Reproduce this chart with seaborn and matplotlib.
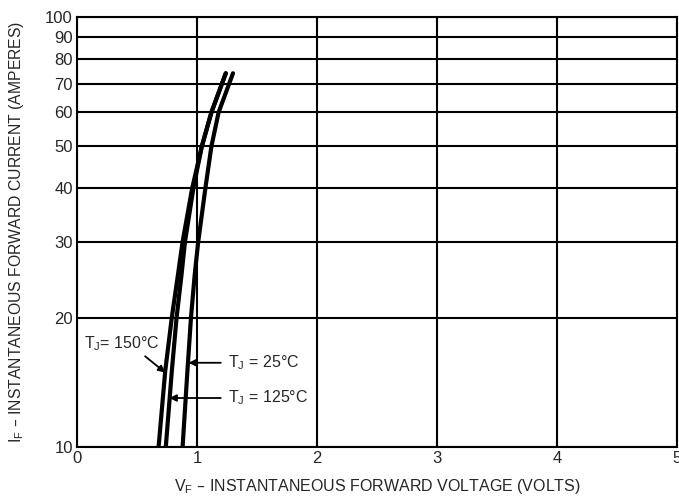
import numpy as np
import pandas as pd
import matplotlib
matplotlib.use("Agg")
import matplotlib.pyplot as plt
import seaborn as sns

# forward current (A)
current = [10, 15, 20, 25, 30, 40, 50, 60, 74]
# forward voltage (V) for each junction temperature
v_150 = [0.68, 0.735, 0.79, 0.84, 0.88, 0.96, 1.04, 1.12, 1.24]
v_125 = [0.74, 0.79, 0.83, 0.87, 0.90, 0.97, 1.04, 1.12, 1.24]
v_25 = [0.88, 0.92, 0.95, 0.98, 1.01, 1.07, 1.12, 1.18, 1.30]

y_ticks = [10, 20, 30, 40, 50, 60, 70, 80, 90, 100]
x_ticks = [0, 1, 2, 3, 4, 5]

df = pd.concat([
    pd.DataFrame({"V": v_150, "I": current, "T": "150"}),
    pd.DataFrame({"V": v_125, "I": current, "T": "125"}),
    pd.DataFrame({"V": v_25, "I": current, "T": "25"}),
])

sns.set_style("white")
plt.rcParams["font.family"] = ["Liberation Sans", "DejaVu Sans"]

fig = plt.figure(figsize=(6.79, 4.98), dpi=100)
ax = fig.add_axes([0.1134, 0.1024, 0.8836, 0.8634])

sns.lineplot(data=df, x="V", y="I", units="T", estimator=None, sort=False,
             color="black", lw=3, ax=ax)

ax.set_yscale("log")
ax.set_xlim(0, 5)
ax.set_ylim(10, 100)
ax.set_yticks(y_ticks)
ax.set_yticklabels([str(t) for t in y_ticks])
ax.minorticks_off()
ax.set_xticks(x_ticks)
ax.set_xticklabels([str(t) for t in x_ticks])
ax.tick_params(length=0, labelsize=12, pad=3)
ax.grid(True, color="black", lw=1.5)
for s in ax.spines.values():
    s.set_color("black")
    s.set_linewidth(1.5)

ax.set_xlabel(r"V$_\mathregular{F}$ – INSTANTANEOUS FORWARD VOLTAGE (VOLTS)", fontsize=11.5, labelpad=8)
ax.set_ylabel(r"I$_\mathregular{F}$ – INSTANTANEOUS FORWARD CURRENT (AMPERES)", fontsize=11.3)
ax.yaxis.set_label_coords(-0.085, 0.5)

arr = dict(arrowstyle="-|>", color="black", lw=1.3, mutation_scale=10, shrinkA=3, shrinkB=0)
bbox = dict(boxstyle="square,pad=0.1", fc="white", ec="none")
ax.annotate(r"T$_\mathregular{J}$= 150°C", xy=(0.735, 14.9), xytext=(0.06, 17.4),
            fontsize=11.5, va="center", ha="left", bbox=bbox,
            arrowprops=dict(arr, shrinkA=2, relpos=(0.75, 0)))
ax.annotate(r"T$_\mathregular{J}$ = 25°C", xy=(0.93, 15.7), xytext=(1.26, 15.7),
            fontsize=11.5, va="center", ha="left",
            arrowprops=dict(arr, relpos=(0, 0.5)))
ax.annotate(r"T$_\mathregular{J}$ = 125°C", xy=(0.77, 13.0), xytext=(1.26, 13.0),
            fontsize=11.5, va="center", ha="left",
            arrowprops=dict(arr, relpos=(0, 0.5)))

fig.savefig("out.png", dpi=100)
plt.close(fig)
